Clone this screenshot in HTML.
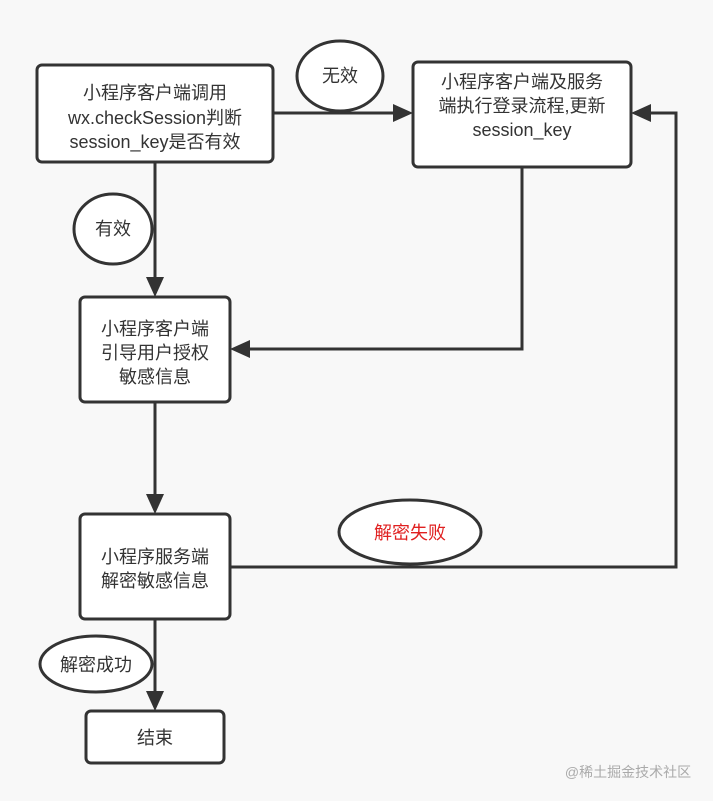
<!DOCTYPE html>
<html><head><meta charset="utf-8"><style>
html,body{margin:0;padding:0;background:#f8f8f8;}
svg{display:block;}
text{font-family:"Liberation Sans","Noto Sans CJK SC",sans-serif;font-size:18px;fill:#333;text-anchor:middle;}
</style></head><body>
<svg width="713" height="801" viewBox="0 0 713 801" xmlns="http://www.w3.org/2000/svg">
<rect width="713" height="801" fill="#f8f8f8"/>
<g stroke="#333" stroke-width="3" fill="none">
<line x1="273" y1="113" x2="396" y2="113"/>
<polyline points="522,167 522,349 250,349"/>
<line x1="155" y1="162" x2="155" y2="279"/>
<line x1="155" y1="402" x2="155" y2="496"/>
<polyline points="230,567 676,567 676,113 650,113"/>
<line x1="155" y1="619" x2="155" y2="693"/>
</g>
<g fill="#333">
<polygon points="413,113 393,104 393,122"/>
<polygon points="631,113 651,104 651,122"/>
<polygon points="155,297 146,277 164,277"/>
<polygon points="230,349 250,340 250,358"/>
<polygon points="155,514 146,494 164,494"/>
<polygon points="155,711 146,691 164,691"/>
</g>
<g stroke="#333" stroke-width="3" fill="#fff">
<rect x="37" y="65" width="236" height="97" rx="5"/>
<rect x="413" y="62" width="218" height="105" rx="5"/>
<rect x="80" y="297" width="150" height="105" rx="5"/>
<rect x="80" y="514" width="150" height="105" rx="5"/>
<rect x="86" y="711" width="138" height="52" rx="5"/>
<ellipse cx="340" cy="76" rx="43" ry="35"/>
<ellipse cx="113" cy="229" rx="39" ry="35"/>
<ellipse cx="410" cy="532" rx="71" ry="32"/>
<ellipse cx="96" cy="664" rx="56" ry="28"/>
</g>
<text x="155" y="99">小程序客户端调用</text>
<text x="155" y="124">wx.checkSession判断</text>
<text x="155" y="148">session_key是否有效</text>
<text x="522" y="88">小程序客户端及服务</text>
<text x="522" y="112">端执行登录流程,更新</text>
<text x="522" y="136">session_key</text>
<text x="340" y="82">无效</text>
<text x="113" y="235">有效</text>
<text x="155" y="335">小程序客户端</text>
<text x="155" y="359">引导用户授权</text>
<text x="155" y="383">敏感信息</text>
<text x="155" y="563">小程序服务端</text>
<text x="155" y="587">解密敏感信息</text>
<text x="410" y="539" style="fill:#e02020">解密失败</text>
<text x="96" y="671">解密成功</text>
<text x="155" y="744">结束</text>
<text x="628" y="777" style="font-size:14px;fill:#aaa">@稀土掘金技术社区</text>
</svg>
</body></html>
